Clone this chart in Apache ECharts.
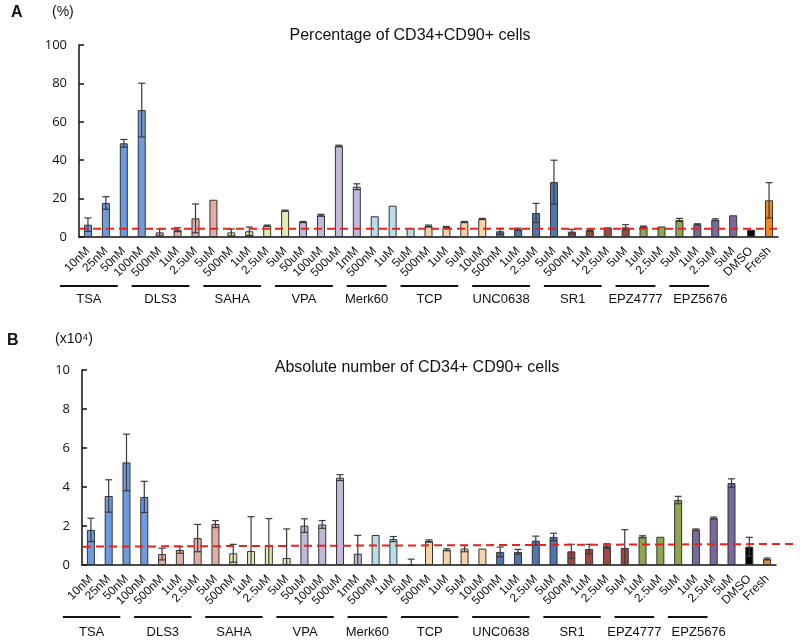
<!DOCTYPE html>
<html><head><meta charset="utf-8">
<script src="https://cdn.jsdelivr.net/npm/echarts@6/dist/echarts.min.js"></script>
<style>html,body{margin:0;padding:0;background:#fff}#c{width:800px;height:641px}</style>
</head><body><div id="c"></div>
<script>
const categories = ['10nM','25nM','50nM','100nM','500nM','1uM','2.5uM','5uM','500nM','1uM','2.5uM','5uM','50uM','100uM','500uM','1mM','500nM','1uM','5uM','500nM','1uM','5uM','10uM','500nM','1uM','2.5uM','5uM','500nM','1uM','2.5uM','5uM','1uM','2.5uM','5uM','1uM','2.5uM','5uM','DMSO','Fresh'];
const groupNames = ['TSA','DLS3','SAHA','VPA','Merk60','TCP','UNC0638','SR1','EPZ4777','EPZ5676'];
const groupSizes = [4,4,4,4,3,4,4,4,3,3];
const groupColors = ['#6E9BDF','#E2ADA7','#E3EAB2','#C4B7DA','#B7DFE9','#F7D3A6','#4F76AE','#9C4844','#8FA64F','#7A699E'];
const extraColors = ['#000000','#F08A24'];

const pctValues = [6.4,17.7,48.8,66.1,2.4,3.8,9.7,19.4,2.4,3.0,5.9,13.7,7.8,11.3,47.4,26.2,10.8,16.3,4.7,5.7,5.2,7.8,9.4,3.0,4.0,12.5,28.6,2.8,3.6,5.0,5.0,5.4,5.5,8.9,6.6,9.0,11.3,3.8,19.1];
const pctErr    = [3.5,3.3,2.0,14,1.8,1.0,7.5,0,1.8,2.2,0.3,0.3,0.3,0.5,0.4,1.5,0,0,0,0.5,0.3,0.3,0.3,1.5,0.6,5.0,11.4,1.2,0.6,0,1.4,0.3,0,0.8,0.3,0.5,0,0,9.2];
const absValues = [1.80,3.54,5.26,3.49,0.56,0.77,1.38,2.10,0.60,0.72,1.03,0.36,2.02,2.08,4.48,0.58,1.54,1.33,0.03,1.23,0.78,0.84,0.84,0.67,0.67,1.25,1.44,0.70,0.82,0.97,0.87,1.45,1.45,3.33,1.81,2.41,4.20,0.94,0.31];
const absErr    = [0.6,0.83,1.45,0.8,0.3,0.17,0.7,0.18,0.46,1.76,1.35,1.49,0.35,0.2,0.15,0.94,0,0.13,0.27,0.06,0.05,0.16,0,0.25,0.13,0.23,0.19,0.36,0.24,0.12,0.94,0.05,0,0.19,0.04,0.05,0.22,0.48,0.05];
const pctRef = [4.3, 4.3];
const absRef = [0.94, 1.08];

// per-bar colours and group ranges
const barColors = [];
const groupRanges = [];
let idx = 0;
groupSizes.forEach((n, g) => {
  groupRanges.push([idx, idx + n - 1]);
  for (let k = 0; k < n; k++) barColors.push(groupColors[g]);
  idx += n;
});
extraColors.forEach(c => barColors.push(c));

// small label nudges (style only)
const groupTextShift = { EPZ5676: 11 };

const chart = echarts.init(document.getElementById('c'));
const FONT = 'Liberation Sans';

function barSeries(ax, values) {
  return {
    type: 'bar', xAxisIndex: ax, yAxisIndex: ax, barWidth: 8, z: 2,
    data: values.map((v, i) => ({ value: v, itemStyle: { color: barColors[i] } })),
    itemStyle: { borderColor: '#333', borderWidth: 1 }
  };
}
function errSeries(ax, values, errs) {
  return {
    type: 'custom', xAxisIndex: ax, yAxisIndex: ax, z: 5,
    encode: { x: 0, y: 1 },
    data: values.map((v, i) => [i, v, errs[i]]),
    renderItem: function (params, api) {
      const i = api.value(0), v = api.value(1), e = api.value(2);
      if (!e) return null;
      const top = api.coord([i, v + e]);
      const lowV = Math.max(0, v - e);
      const bot = api.coord([i, lowV]);
      const h = 3.5;
      const st = { stroke: '#3a3a3a', lineWidth: 1.2 };
      const ch = [
        { type: 'line', shape: { x1: top[0], y1: top[1], x2: bot[0], y2: bot[1] }, style: st },
        { type: 'line', shape: { x1: top[0] - h, y1: top[1], x2: top[0] + h, y2: top[1] }, style: st }
      ];
      if (v - e > 0) ch.push({ type: 'line', shape: { x1: bot[0] - h, y1: bot[1], x2: bot[0] + h, y2: bot[1] }, style: st });
      return { type: 'group', children: ch };
    }
  };
}
function refSeries(ax, ref, extra) {
  return {
    type: 'custom', xAxisIndex: ax, yAxisIndex: ax, z: 6, clip: false,
    data: [[0, ref[0]]],
    renderItem: function (params, api) {
      const n = categories.length;
      const bw = api.size([1, 0])[0];
      const p0 = api.coord([0, ref[0]]);
      const p1 = api.coord([n - 1, ref[1]]);
      return { type: 'line', shape: { x1: p0[0] - bw / 2 + 1, y1: p0[1], x2: p1[0] + bw / 2 + extra, y2: p1[1] },
        style: { stroke: '#E8231C', lineWidth: 2, lineDash: [8, 5] } };
    }
  };
}
function groupSeries(ax, lineDy, textDy) {
  return {
    type: 'custom', xAxisIndex: ax, yAxisIndex: ax, z: 4, clip: false, silent: true,
    data: groupRanges.map(r => [r[0], 0]),
    renderItem: function (params, api) {
      const r = groupRanges[params.dataIndex];
      const name = groupNames[params.dataIndex];
      const p0 = api.coord([r[0], 0]);
      const p1 = api.coord([r[1], 0]);
      const x0 = p0[0] - 28, x1 = p1[0] - 24, y = p0[1] + lineDy;
      return { type: 'group', children: [
        { type: 'line', shape: { x1: x0, y1: y, x2: x1, y2: y }, style: { stroke: '#111', lineWidth: 2 } },
        { type: 'text', style: { text: name, x: (x0 + x1) / 2 + (groupTextShift[name] || 0), y: p0[1] + textDy,
          align: 'center', verticalAlign: 'middle', fill: '#111', font: '13px ' + FONT } }
      ] };
    }
  };
}

const xAxisBase = {
  type: 'category', data: categories,
  axisLine: { lineStyle: { color: '#111', width: 1.5 } },
  axisTick: { inside: true, length: 4, lineStyle: { color: '#111', width: 1.5 } },
  axisLabel: { rotate: 45, interval: 0, fontSize: 12, fontFamily: FONT, color: '#111', margin: 12 },
  splitLine: { show: false }
};
const yAxisBase = {
  type: 'value', min: 0,
  axisLine: { show: true, lineStyle: { color: '#111', width: 1.5 } },
  axisTick: { show: true, inside: true, length: 5, lineStyle: { color: '#111', width: 1.5 } },
  axisLabel: { fontSize: 13, fontFamily: 'Open Sans', color: '#111', margin: 12 },
  splitLine: { show: false }
};

chart.setOption({
  animation: false,
  backgroundColor: '#fff',
  title: [
    { text: 'Percentage of CD34+CD90+ cells', left: 405, top: 23, textAlign: 'center',
      textStyle: { fontSize: 16, fontWeight: 'normal', fontFamily: FONT, color: '#111' } },
    { text: 'Absolute number of CD34+ CD90+ cells', left: 412, top: 355, textAlign: 'center',
      textStyle: { fontSize: 16, fontWeight: 'normal', fontFamily: FONT, color: '#111' } }
  ],
  graphic: [
    { type: 'text', left: 11, top: 5, style: { text: 'A', font: 'bold 16px ' + FONT, fill: '#111' } },
    { type: 'text', left: 52, top: 5, style: { text: '(%)', font: '14px ' + FONT, fill: '#111' } },
    { type: 'text', left: 7, top: 333, style: { text: 'B', font: 'bold 16px ' + FONT, fill: '#111' } },
    { type: 'text', left: 55, top: 332, style: { text: '(x10⁴)', font: '14px ' + FONT, fill: '#111' } }
  ],
  grid: [
    { left: 79, top: 45, width: 699, height: 192 },
    { left: 82, top: 370, width: 694, height: 195 }
  ],
  xAxis: [
    Object.assign({}, xAxisBase, { gridIndex: 0 }),
    Object.assign({}, xAxisBase, { gridIndex: 1 })
  ],
  yAxis: [
    Object.assign({}, yAxisBase, { gridIndex: 0, max: 100, interval: 20 }),
    Object.assign({}, yAxisBase, { gridIndex: 1, max: 10, interval: 2 })
  ],
  series: [
    barSeries(0, pctValues), errSeries(0, pctValues, pctErr), refSeries(0, pctRef, 0), groupSeries(0, 49, 62),
    barSeries(1, absValues), errSeries(1, absValues, absErr), refSeries(1, absRef, 20), groupSeries(1, 52, 67)
  ]
});
</script></body></html>
